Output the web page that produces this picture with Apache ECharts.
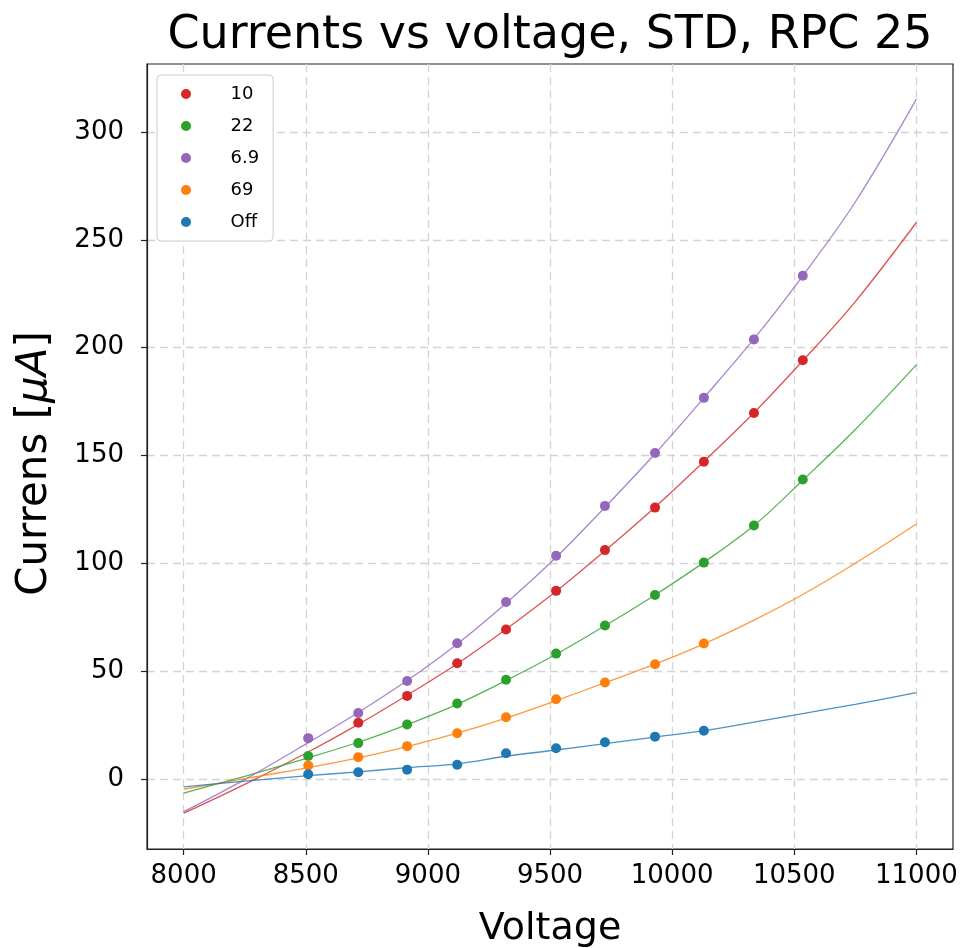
<!DOCTYPE html>
<html>
<head>
<meta charset="utf-8">
<script src="https://cdn.jsdelivr.net/npm/echarts@6/dist/echarts.min.js"></script>
<style>html,body{margin:0;padding:0;background:#fff}#c{width:965px;height:948px}</style>
</head>
<body>
<div id="c"></div>
<script>
// ---- data ----
var dotX = [8510, 8715, 8915, 9120, 9320, 9525, 9725, 9930, 10130, 10335, 10535];
var red10   = [null, 26.0, 38.5, 53.6, 69.3, 87.2, 106.1, 125.8, 147.1, 169.7, 194.1];
var green22 = [10.6, 16.6, 25.2, 35.0, 46.0, 58.1, 71.1, 85.3, 100.3, 117.5, 138.8];
var purple69 = [18.9, 30.6, 45.4, 62.9, 82.0, 103.5, 126.6, 151.1, 176.7, 203.8, 233.3];
var orange69 = [6.2, 10.1, 15.2, 21.2, 28.6, 36.9, 44.7, 53.2, 62.8, null, null];
var blueOff  = [2.2, 3.1, 4.3, 6.6, 11.9, 14.2, 17.0, 19.6, 22.3, null, null];

// fitted curves
var fitX = [8000, 8250, 8510, 8715, 8915, 9120, 9320, 9525, 9725, 9930, 10130, 10335, 10535, 10750, 11000];
var fitRed    = [-15.9, -2.5, 12.5, 25.3, 38.8, 53.4, 69.4, 87.0, 105.8, 126.0, 147.2, 169.8, 193.9, 221.3, 258.0];
var fitGreen  = [-6.6, 1.2, 9.8, 17.0, 25.2, 34.6, 45.6, 57.8, 71.0, 85.3, 100.4, 117.5, 138.5, 162.0, 192.0];
var fitPurple = [-15.2, -0.3, 16.8, 30.8, 45.6, 62.6, 81.5, 102.8, 126.0, 150.8, 176.7, 204.0, 233.3, 267.5, 315.2];
var fitOrange = [-4.8, 0.1, 5.2, 9.8, 15.0, 21.2, 28.2, 36.3, 44.6, 53.2, 62.6, 73.6, 85.5, 100.0, 118.2];
var fitBlue   = [-3.7, -1.0, 1.5, 3.3, 5.2, 7.0, 10.5, 13.4, 16.4, 19.4, 22.4, 26.3, 30.3, 34.6, 40.0];

var names = ['10', '22', '6.9', '69', 'Off'];
var colors = ['#d62728', '#2ca02c', '#9467bd', '#ff7f0e', '#1f77b4'];
var dots = [red10, green22, purple69, orange69, blueOff];
var fits = [fitRed, fitGreen, fitPurple, fitOrange, fitBlue];

var xTicks = [8000, 8500, 9000, 9500, 10000, 10500, 11000];
var yTicks = [0, 50, 100, 150, 200, 250, 300];

function pairs(xs, ys) {
  var out = [];
  for (var i = 0; i < xs.length; i++) if (ys[i] !== null) out.push([xs[i], ys[i]]);
  return out;
}

var series = [];
for (var k = 0; k < names.length; k++) {
  series.push({
    type: 'line', name: names[k] + ' fit', data: pairs(fitX, fits[k]),
    smooth: 0.35, showSymbol: false, symbol: 'none', silent: true,
    lineStyle: { color: colors[k], width: 1.3, opacity: 0.8 }, z: 2
  });
}
for (var k = 0; k < names.length; k++) {
  series.push({
    type: 'scatter', name: names[k], data: pairs(dotX, dots[k]),
    symbol: 'circle', symbolSize: 10,
    itemStyle: { color: colors[k], opacity: 1 }, z: 5
  });
}

var chart = echarts.init(document.getElementById('c'), null, { renderer: 'canvas' });
var gridLine = { show: true, lineStyle: { color: '#d4d4d4', width: 1.3, type: [8, 5] } };
chart.setOption({
  animation: false,
  backgroundColor: '#ffffff',
  title: {
    text: 'Currents vs voltage, STD, RPC 25',
    left: 545, top: 8, textAlign: 'center',
    textStyle: { fontFamily: 'DejaVu Sans', fontSize: 46, fontWeight: 'normal', color: '#000' }
  },
  legend: {
    data: names.map(function (n) { return { name: n, icon: 'circle' }; }),
    orient: 'vertical', left: 157, top: 75,
    padding: [10, 14, 10, 24],
    itemWidth: 35, itemHeight: 10, itemGap: 14,
    backgroundColor: '#fff', borderColor: '#cccccc', borderWidth: 1, borderRadius: 4,
    textStyle: { fontFamily: 'DejaVu Sans', fontSize: 18, lineHeight: 18, color: '#000', padding: [0, 0, 0, 22] }
  },
  grid: {
    left: 147, right: 12, top: 64, bottom: 99,
    outerBoundsMode: 'none',
    show: true, borderColor: '#222', borderWidth: 1.2, containLabel: false
  },
  xAxis: {
    type: 'value', min: 7850, max: 11150,
    name: 'Voltage', nameLocation: 'middle', nameGap: 61,
    nameTextStyle: { fontFamily: 'DejaVu Sans', fontSize: 38, color: '#000' },
    axisLine: { show: true, onZero: false, lineStyle: { color: '#222', width: 1.2 } },
    axisTick: { show: true, inside: false, length: 6, customValues: xTicks, lineStyle: { color: '#222', width: 1.2 } },
    axisLabel: { customValues: xTicks, margin: 14, fontFamily: 'DejaVu Sans', fontSize: 26, color: '#000',
      formatter: function (v) { return String(v); } },
    splitLine: gridLine
  },
  yAxis: {
    type: 'value', min: -32.5, max: 331.5,
    name: 'Currens [{i|μA}]', nameLocation: 'middle', nameGap: 91, nameRotate: 90,
    nameTextStyle: { fontFamily: 'DejaVu Sans', fontSize: 42, color: '#000', padding: [0, 14, 0, 0],
      rich: { i: { fontFamily: 'DejaVu Sans', fontSize: 42, fontStyle: 'italic', color: '#000' } } },
    axisLine: { show: true, onZero: false, lineStyle: { color: '#222', width: 1.2 } },
    axisTick: { show: true, inside: false, length: 6, customValues: yTicks, lineStyle: { color: '#222', width: 1.2 } },
    axisLabel: { customValues: yTicks, margin: 23, fontFamily: 'DejaVu Sans', fontSize: 26, color: '#000',
      formatter: function (v) { return String(v); } },
    splitLine: gridLine
  },
  series: series
});
</script>
</body>
</html>
